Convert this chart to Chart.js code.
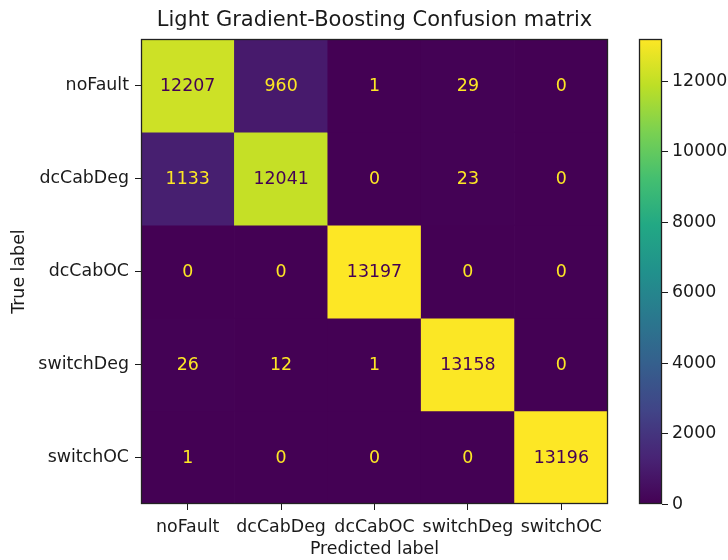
<!DOCTYPE html>
<html>
<head>
<meta charset="utf-8">
<script src="https://cdn.jsdelivr.net/npm/chart.js@4"></script>
<style>
  html, body { margin: 0; padding: 0; background: #fff; }
  #wrap { position: relative; width: 728px; height: 560px; }
  canvas { position: absolute; top: 0; }
  #matrix { left: 0; }
  #cbar { left: 630px; }
</style>
</head>
<body>
<div id="wrap">
  <canvas id="matrix" width="630" height="560"></canvas>
  <canvas id="cbar" width="98" height="560"></canvas>
</div>
<script>
const trueLabels = ['noFault', 'dcCabDeg', 'dcCabOC', 'switchDeg', 'switchOC'];
const predLabels = ['noFault', 'dcCabDeg', 'dcCabOC', 'switchDeg', 'switchOC'];

// one row per true label, columns follow predLabels
const rowNoFault   = [12207, 960, 1, 29, 0];
const rowDcCabDeg  = [1133, 12041, 0, 23, 0];
const rowDcCabOC   = [0, 0, 13197, 0, 0];
const rowSwitchDeg = [26, 12, 1, 13158, 0];
const rowSwitchOC  = [1, 0, 0, 0, 13196];
const rows = [rowNoFault, rowDcCabDeg, rowDcCabOC, rowSwitchDeg, rowSwitchOC];

const cbarTicks = [0, 2000, 4000, 6000, 8000, 10000, 12000];

const FONT = 'DejaVu Sans';
const FS = 17.4;
const INK = '#1a1a1a';

// viridis, sampled every 0.1
const viridis = ['#440154','#482475','#414487','#355f8d','#2a788e','#21918c',
                 '#22a884','#44bf70','#7ad151','#bddf26','#fde725'];

function hexRgb(h) {
  return [1, 3, 5].map(i => parseInt(h.slice(i, i + 2), 16));
}
function cmap(t) {
  t = Math.max(0, Math.min(1, t));
  const p = t * (viridis.length - 1);
  const i = Math.min(Math.floor(p), viridis.length - 2);
  const f = p - i;
  const a = hexRgb(viridis[i]), b = hexRgb(viridis[i + 1]);
  const c = a.map((v, k) => Math.round(v + (b[k] - v) * f));
  return `rgb(${c[0]},${c[1]},${c[2]})`;
}

const all = rows.flat();
const vmin = Math.min(...all);
const vmax = Math.max(...all);
const thresh = (vmin + vmax) / 2;

const datasets = rows.map((vals, r) => ({
  label: trueLabels[r],
  data: vals.map(() => [r - 0.5, r + 0.5]),
  values: vals,
  backgroundColor: vals.map(v => cmap((v - vmin) / (vmax - vmin))),
  borderWidth: 0,
  grouped: false,
  barPercentage: 1,
  categoryPercentage: 1
}));

// numbers written in each cell
const cellText = {
  id: 'cellText',
  afterDatasetsDraw(chart) {
    const ctx = chart.ctx;
    ctx.save();
    ctx.font = `${FS}px "${FONT}"`;
    ctx.textAlign = 'center';
    ctx.textBaseline = 'middle';
    chart.data.datasets.forEach((ds, di) => {
      chart.getDatasetMeta(di).data.forEach((el, i) => {
        const v = ds.values[i];
        ctx.fillStyle = v < thresh ? viridis[viridis.length - 1] : viridis[0];
        ctx.fillText(String(v), el.x, (el.y + el.base) / 2 + 1);
      });
    });
    ctx.restore();
  }
};

// dark outline round the plot area
const frame = {
  id: 'frame',
  afterDraw(chart) {
    const a = chart.chartArea, ctx = chart.ctx;
    ctx.save();
    ctx.strokeStyle = '#222';
    ctx.lineWidth = 1.3;
    ctx.strokeRect(Math.round(a.left) + 0.5, Math.round(a.top) + 0.5,
                   Math.round(a.right - a.left) - 1, Math.round(a.bottom - a.top) - 1);
    ctx.restore();
  }
};

new Chart(document.getElementById('matrix'), {
  type: 'bar',
  data: { labels: predLabels, datasets },
  plugins: [cellText, frame],
  options: {
    responsive: false,
    animation: false,
    layout: { padding: { top: 0, right: 22, left: 0, bottom: 0 } },
    plugins: {
      legend: { display: false },
      tooltip: { enabled: false },
      title: {
        display: true,
        text: 'Light Gradient-Boosting Confusion matrix',
        fullSize: false,
        color: INK,
        font: { family: FONT, size: 21, weight: 'normal' },
        padding: { top: 8, bottom: 6 }
      }
    },
    scales: {
      x: {
        grid: { display: true, drawOnChartArea: false, offset: false, tickLength: 6, color: INK },
        border: { display: false },
        ticks: { color: INK, padding: 7, maxRotation: 0, autoSkip: false, font: { family: FONT, size: FS } },
        title: {
          display: true, text: 'Predicted label', color: INK,
          font: { family: FONT, size: FS }, padding: { top: 0, bottom: 0 }
        },
        afterFit(scale) { scale.height = 56; }
      },
      y: {
        type: 'linear',
        reverse: true,
        min: -0.5,
        max: 4.5,
        grid: { display: true, drawOnChartArea: false, tickLength: 6, color: INK },
        border: { display: false },
        afterBuildTicks(scale) { scale.ticks = trueLabels.map((_, i) => ({ value: i })); },
        ticks: {
          color: INK, padding: 6, font: { family: FONT, size: FS },
          callback: v => trueLabels[v]
        },
        title: {
          display: true, text: 'True label', color: INK,
          font: { family: FONT, size: FS }, padding: { top: 9, bottom: 0 }
        },
        afterFit(scale) { scale.width = 141; }
      }
    }
  }
});

// colour bar
function barGradient(ctx) {
  const chart = ctx.chart, a = chart.chartArea;
  if (!a) return viridis[0];
  const g = chart.ctx.createLinearGradient(0, a.bottom, 0, a.top);
  viridis.forEach((c, i) => g.addColorStop(i / (viridis.length - 1), c));
  return g;
}

new Chart(document.getElementById('cbar'), {
  type: 'bar',
  data: {
    labels: [''],
    datasets: [{
      data: [[vmin, vmax]],
      backgroundColor: barGradient,
      borderWidth: 0,
      barPercentage: 1,
      categoryPercentage: 1
    }]
  },
  plugins: [frame],
  options: {
    responsive: false,
    animation: false,
    layout: { padding: { top: 39, left: 9, bottom: 56, right: 0 } },
    plugins: { legend: { display: false }, tooltip: { enabled: false } },
    scales: {
      x: { display: false },
      y: {
        position: 'right',
        min: vmin,
        max: vmax,
        grid: { display: true, drawOnChartArea: false, tickLength: 6, color: INK },
        border: { display: false },
        afterBuildTicks(scale) { scale.ticks = cbarTicks.map(v => ({ value: v })); },
        ticks: { color: INK, padding: 4, font: { family: FONT, size: FS }, callback: v => String(v) },
        afterFit(scale) { scale.width = 66; }
      }
    }
  }
});
</script>
</body>
</html>
